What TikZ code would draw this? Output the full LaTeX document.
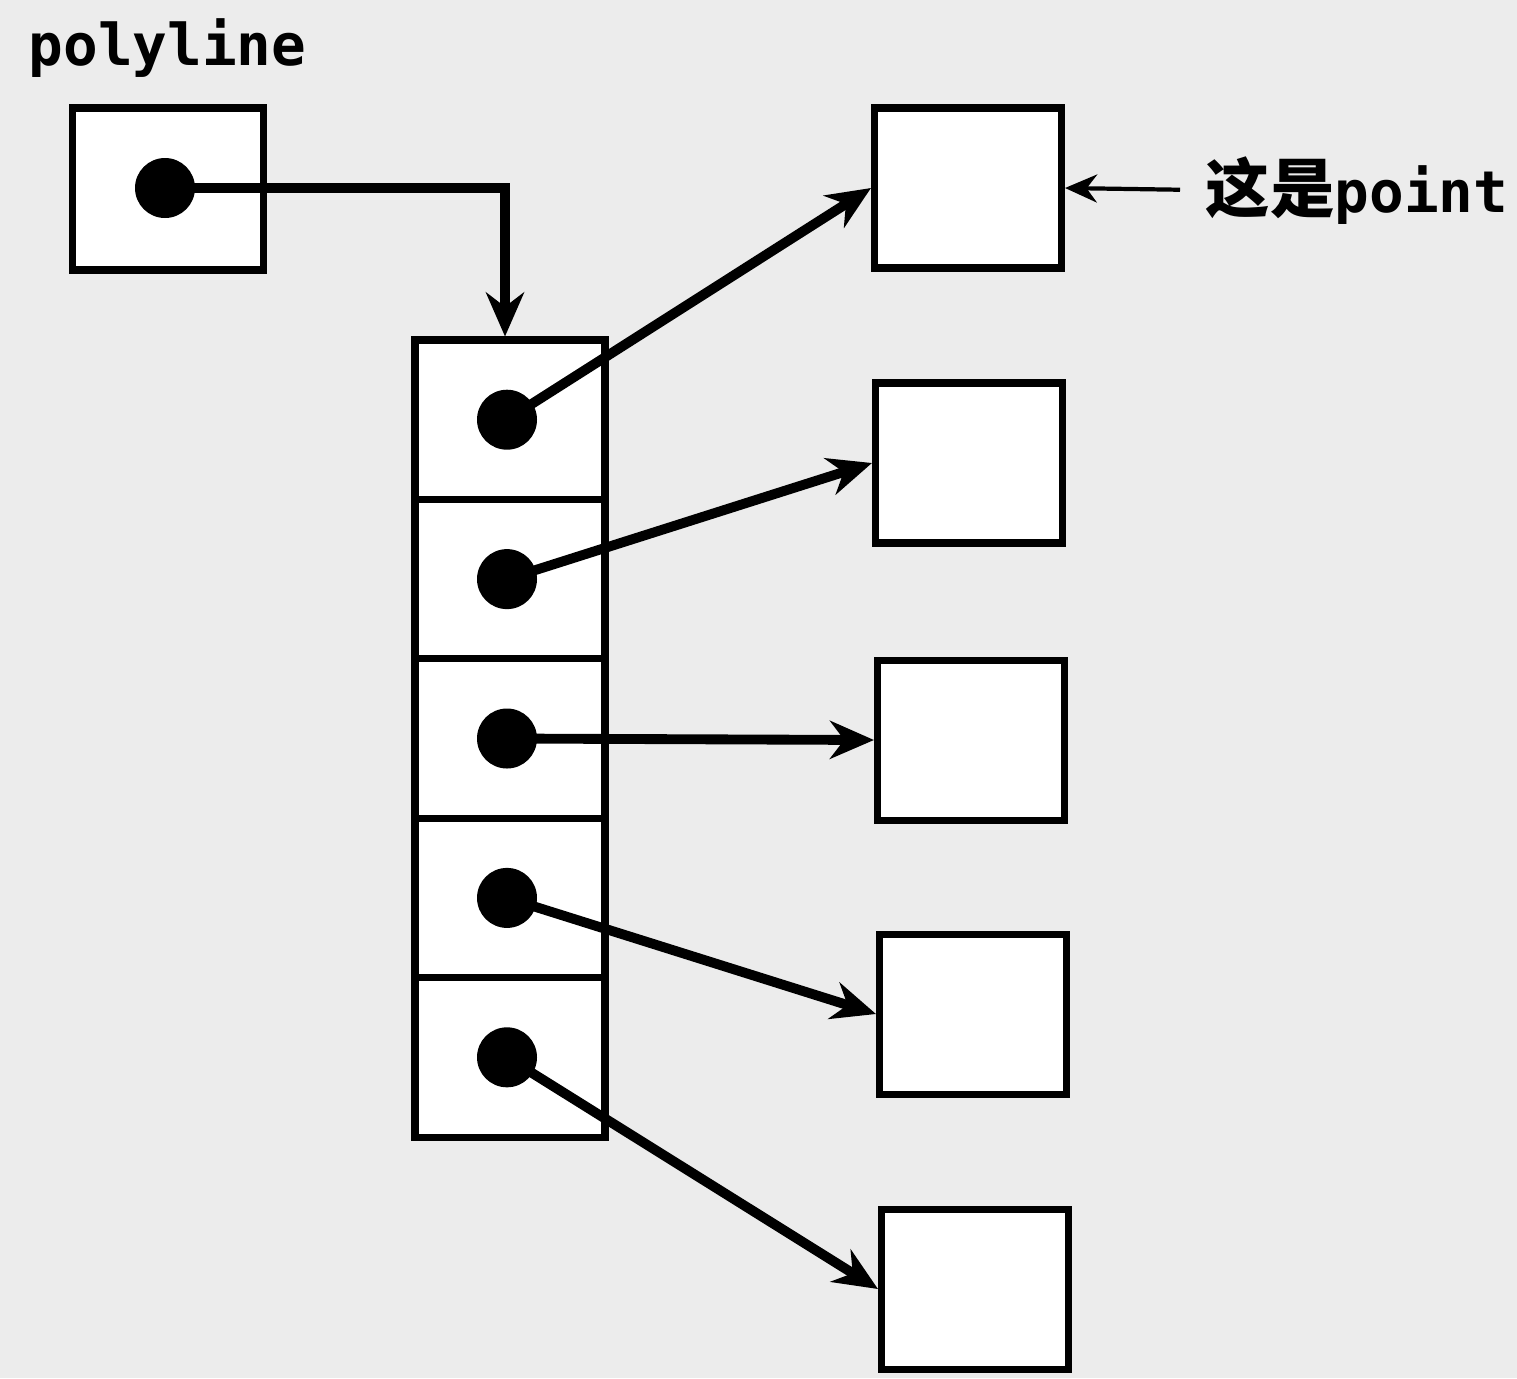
\documentclass[tikz,border=0pt]{standalone}
\usepackage{fontspec}
\setmonofont{DejaVu Sans Mono}
\newfontfamily\cjk{Noto Sans CJK SC}[Scale=1.12]
\usetikzlibrary{arrows.meta,positioning}
\begin{document}
\begin{tikzpicture}[
  x=0.1mm, y=-0.1mm,
  box/.style={rectangle, draw=black, fill=white, line width=2pt, inner sep=0pt},
  ptrbox/.style={box, minimum width=19.1mm, minimum height=16.2mm},
  cell/.style={box, minimum width=19mm, minimum height=15.94mm},
  pointbox/.style={box, minimum width=18.7mm, minimum height=16mm},
  dot/.style={circle, fill=black, inner sep=0pt, minimum size=6mm},
  link/.style={line width=2.8pt, draw=black, -{Stealth[length=4.4mm, width=3.8mm]}},
  note/.style={line width=1.2pt, draw=black, -{Stealth[length=3.2mm, width=2.8mm]}},
  txt/.style={inner sep=0pt, font=\fontsize{16.4pt}{20pt}\selectfont\ttfamily\bfseries}
]
  \fill[gray!15] (0,0) rectangle (1517,1378);
  \useasboundingbox (0,0) rectangle (1517,1378);

  % Variable polyline
  \node[txt, anchor=base west] (name) at (28,65) {polyline};
  \node[ptrbox] (pl) at (168,189) {};
  \node[dot] (d0) at (165,188) {};

  % Array of pointers
  \foreach \i in {1,...,5}
    \node[cell] (cell\i) at (510,{340+159.4*(\i-0.5)}) {};
  \foreach \i in {1,...,5}
    \node[dot] (d\i) at ([xshift=-0.3mm]cell\i.center) {};

  % The points
  \foreach \i/\x/\y in {1/968/188, 2/969/463, 3/971/740, 4/973/1014, 5/975/1289}
    \node[pointbox] (pt\i) at (\x,\y) {};

  % Pointer arrows
  \draw[link] (d0.center) -| ([xshift=-0.5mm]cell1.north);
  \foreach \i in {1,...,5}
    \draw[link] (d\i.center) -- (pt\i.west);

  % Label
  \node[txt, anchor=base west] (lbl) at (1205,212) {{\cjk\bfseries 这是}point};
  \draw[note, shorten <=2.5mm] (lbl.west) -- (pt1.east);
\end{tikzpicture}
\end{document}
